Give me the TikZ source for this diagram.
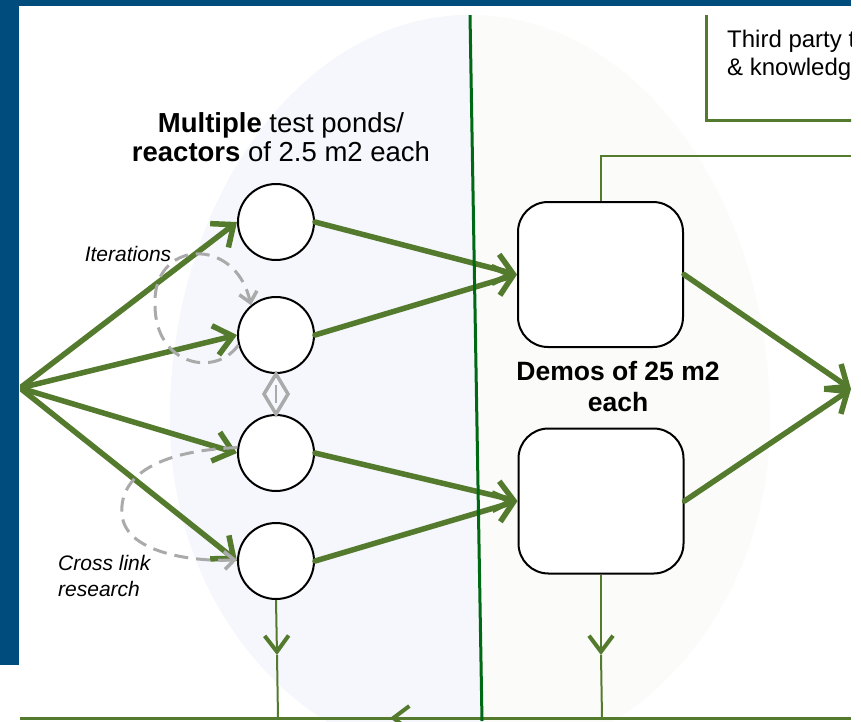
\documentclass[tikz,border=0pt]{standalone}
\usepackage{fontspec}
\setmainfont{Liberation Sans}
\usetikzlibrary{arrows.meta}
\definecolor{frameblue}{RGB}{0,76,124}
\definecolor{arrgreen}{RGB}{84,122,46}
\definecolor{divgreen}{RGB}{0,105,20}
\definecolor{lblue}{RGB}{245,247,252}
\definecolor{lgrey}{RGB}{251,251,249}
\definecolor{dgray}{RGB}{170,170,170}
\begin{document}
\begin{tikzpicture}[x=1pt,y=-1pt,
  pond/.style={circle, draw=black, line width=2pt, fill=white, minimum size=76pt, inner sep=0pt},
  demo/.style={rectangle, draw=black, line width=2pt, fill=white, minimum width=165pt, minimum height=145pt, rounded corners=30pt},
  thickarr/.style={draw=arrgreen, line width=5.5pt, line cap=round, -{Straight Barb[length=18pt,width=30pt,line width=5.5pt]}},
  thinline/.style={draw=arrgreen, line width=2pt},
  thinarr/.style={thinline, -{Straight Barb[length=16pt,width=24pt,line width=4pt]}},
  grayloop/.style={draw=dgray, line width=3pt, dash pattern=on 14pt off 8pt, -{Straight Barb[length=10pt,width=18pt,line width=3.5pt]}},
  graymark/.style={draw=dgray, line width=3.5pt, line join=miter},
  tpbox/.style={draw=arrgreen, line width=3pt},
  divider/.style={draw=divgreen, line width=3pt}
]
\useasboundingbox (0,0) rectangle (861,721);
\fill[white] (0,0) rectangle (861,721);

\begin{scope}
\clip (20,15) rectangle (851,721);
% background egg shape, two halves
\fill[lgrey] (170,420) arc[start angle=180, end angle=360, x radius=300, y radius=405]
   arc[start angle=0, end angle=180, x radius=300, y radius=343] -- cycle;
\begin{scope}
\clip (0,0) -- (470,0) -- (483,730) -- (0,730) -- cycle;
\fill[lblue] (170,420) arc[start angle=180, end angle=360, x radius=300, y radius=405]
   arc[start angle=0, end angle=180, x radius=300, y radius=343] -- cycle;
\end{scope}

% third party box
\draw[tpbox] (706,0) rectangle (900,120);
\node[font=\fontsize{24}{28}\selectfont, align=left, anchor=west, inner sep=0pt] (tp) at (727,55) {Third party t\\\& knowledg};

% nodes
\coordinate (src) at (20,388);
\coordinate (tgt) at (851,389);
\node[pond] (c1) at (276,222) {};
\node[pond] (c2) at (276,335) {};
\node[pond] (c3) at (276,453) {};
\node[pond] (c4) at (276,561) {};
\node[demo] (d1) at (600.5,274.5) {};
\node[demo] (d2) at (601,501) {};
\coordinate (tr) at (851,156);
\coordinate (m1) at (277,655);
\coordinate (b1) at (278,718);
\coordinate (m2) at (601,655);
\coordinate (b2) at (602,718);
\coordinate (bl) at (20,718);
\coordinate (br) at (851,718);
\coordinate (ba) at (390,718);
\coordinate (bs) at (420,718);
\coordinate (dtop) at (470,15);
\coordinate (dbot) at (482,721);
\coordinate (dm) at (276,394);

% bottom line and thin connectors
\draw[thinline, line width=3pt] (bl) -- (br);
\draw[thinarr] (bs) -- (ba);
\draw[thinarr] (c4.south) -- (m1);
\draw[thinline] (m1) -- (b1);
\draw[thinarr] (d2.south) -- (m2);
\draw[thinline] (m2) -- (b2);
\draw[thinline] (d1.north) |- (tr);

% thick arrows
\draw[thickarr] (src) -- (c1.west);
\draw[thickarr] (src) -- (c2.west);
\draw[thickarr] (src) -- (c3.west);
\draw[thickarr] (src) -- (c4.west);
\draw[thickarr] (c1.east) -- (d1.west);
\draw[thickarr] (c2.east) -- (d1.west);
\draw[thickarr] (c3.east) -- (d2.west);
\draw[thickarr] (c4.east) -- (d2.west);
\draw[thickarr] (d1.east) -- (tgt);
\draw[thickarr] (d2.east) -- (tgt);

% divider
\draw[divider] (dtop) -- (dbot);

% gray dashed loops
\draw[grayloop] (c2.195) .. controls (215,378) and (155,365) .. (155,305) .. controls (152,240) and (235,235) .. (c2.130);
\draw[grayloop] (c3.172) .. controls (170,450) and (118,470) .. (122,515) .. controls (126,555) and (200,562) .. (c4.178);

% gray double marker between c2 and c3
\draw[graymark] (c2.south) -- ([xshift=12pt]dm) -- (c3.north) -- ([xshift=-12pt]dm) -- cycle;
\draw[draw=dgray, line width=2.5pt] ([yshift=-9pt]dm) -- ([yshift=9pt]dm);

% texts
\node[font=\fontsize{27.5}{29}\selectfont, align=center, inner sep=0pt] (pl) at (281,137) {\textbf{Multiple} test ponds/\\\textbf{reactors} of 2.5 m2 each};
\node[font=\bfseries\fontsize{26.5}{31}\selectfont, align=center, inner sep=0pt] (dl) at (618,387) {Demos of 25 m2\\each};
\node[font=\itshape\fontsize{21}{25}\selectfont, inner sep=0pt] (it) at (128,253.5) {Iterations};
\node[font=\itshape\fontsize{21}{26}\selectfont, align=left, anchor=west, inner sep=0pt] (cl) at (58,575.5) {Cross link\\research};
\end{scope}

% frame bars
\fill[frameblue] (0,0) rectangle (851,6);
\fill[frameblue] (0,0) rectangle (19,665);
\end{tikzpicture}
\end{document}
